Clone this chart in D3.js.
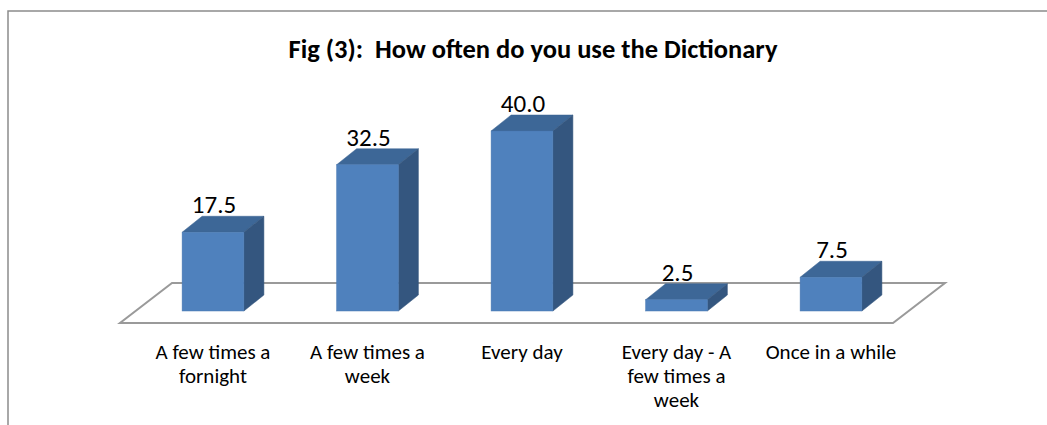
<!DOCTYPE html>
<html>
<head>
<meta charset="utf-8">
<script src="https://cdn.jsdelivr.net/npm/d3@7"></script>
<style>
  html, body { margin: 0; padding: 0; background: #fff; }
  svg { display: block; }
</style>
</head>
<body>
<svg id="chart" width="1047" height="425"></svg>
<script>
// Survey answers: how often the dictionary is used (percent of respondents)
const categories = [
  ["A few times a", "fornight"],
  ["A few times a", "week"],
  ["Every day"],
  ["Every day - A", "few times a", "week"],
  ["Once in a while"]
];
const values = [17.5, 32.5, 40.0, 2.5, 7.5];
const titleText = "Fig (3):  How often do you use the Dictionary";

const W = 1047, H = 425;
const svg = d3.select("#chart");
const labelFont = "Carlito, 'Liberation Sans Narrow', 'Liberation Sans', sans-serif";

// Chart frame (only top and left edges fall inside the view)
svg.append("path")
  .attr("d", `M8,${H} L8,11 L${W},11`)
  .attr("fill", "none").attr("stroke", "#8c8c8c").attr("stroke-width", 1.5);

// Title
svg.append("text")
  .attr("x", 533).attr("y", 58)
  .attr("text-anchor", "middle")
  .style("white-space", "pre")
  .attr("font-family", labelFont)
  .attr("font-weight", "bold")
  .attr("font-size", 26.5)
  .attr("fill", "#000")
  .text(titleText);

const idx = categories.map((d, i) => i);
const x = d3.scaleBand().domain(idx).range([135.75, 908.25]).paddingInner(0.6).paddingOuter(0.3);
const y = d3.scaleLinear().domain([0, 40]).range([311, 131]);

// 3D depth offsets
const dx = 20, dy = 16;

// Floor parallelogram
const base = y(0);
const floorFront = base + 12, floorBack = base - 28;
svg.append("path")
  .attr("d", `M120,${floorFront} L893,${floorFront} L945,${floorBack} L172,${floorBack} Z`)
  .attr("fill", "none").attr("stroke", "#9a9a9a").attr("stroke-width", 2);

const bars = svg.append("g").selectAll("g").data(values).join("g");
bars.each(function(v, i) {
  const g = d3.select(this);
  const x0 = x(i), x1 = x(i) + x.bandwidth();
  const yt = y(v), yb = y(0);
  // top face
  g.append("path")
    .attr("d", `M${x0},${yt} L${x0+dx},${yt-dy} L${x1+dx},${yt-dy} L${x1},${yt} Z`)
    .attr("fill", "#3d6797").attr("stroke", "#3a6290").attr("stroke-width", 0.5);
  // side face
  g.append("path")
    .attr("d", `M${x1},${yt} L${x1+dx},${yt-dy} L${x1+dx},${yb-dy} L${x1},${yb} Z`)
    .attr("fill", "#34567f").attr("stroke", "#33547c").attr("stroke-width", 0.5);
  // front face
  g.append("rect")
    .attr("x", x0).attr("y", yt).attr("width", x.bandwidth()).attr("height", yb - yt)
    .attr("fill", "#4f81bd").attr("stroke", "#4a7ab3").attr("stroke-width", 0.5);
  // value label
  g.append("text")
    .attr("x", (x0 + x1) / 2 + 1).attr("y", yt - dy - 3)
    .attr("text-anchor", "middle")
    .attr("font-family", labelFont)
    .attr("font-size", 25)
    .attr("fill", "#000")
    .text(v.toFixed(1));
});

// Category labels
const cat = svg.append("g").selectAll("text").data(categories).join("text")
  .attr("x", (d, i) => x(i) + x.bandwidth() / 2)
  .attr("y", 358.5)
  .attr("text-anchor", "middle")
  .attr("font-family", labelFont)
  .attr("font-size", 21)
  .attr("fill", "#000");
cat.selectAll("tspan").data(d => d).join("tspan")
  .attr("x", function() { return this.parentNode.getAttribute("x"); })
  .attr("dy", (d, j) => j === 0 ? 0 : 24.3)
  .text(d => d);
</script>
</body>
</html>
